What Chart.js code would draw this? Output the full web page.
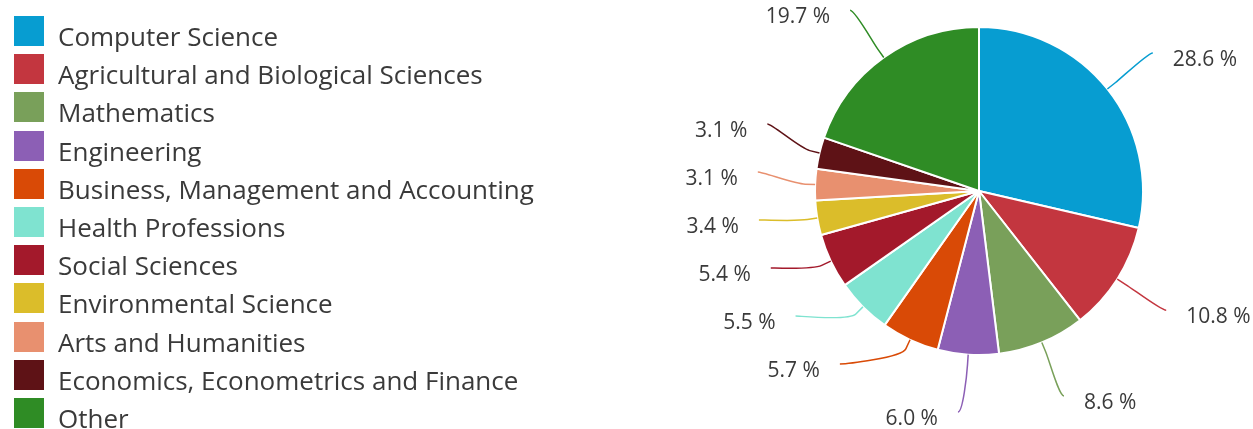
<!DOCTYPE html>
<html>
<head>
<meta charset="utf-8">
<script src="https://cdn.jsdelivr.net/npm/chart.js@4.4.0/dist/chart.umd.min.js"></script>
<style>
  html, body { margin: 0; padding: 0; background: #fff; }
  #wrap { position: relative; width: 1253px; height: 429px; overflow: hidden; }
  #pie { position: absolute; left: 0; top: 0; }
  #legend { position: absolute; left: 14px; top: 16px; font-family: "Open Sans", sans-serif; font-size: 26px; color: #3a3a3a; }
  .item { position: absolute; left: 0; white-space: nowrap; }
  .box { position: absolute; left: 0; top: 0; width: 30px; height: 30px; }
  .txt { position: absolute; left: 44px; top: 4px; line-height: 32px; }
</style>
</head>
<body>
<div id="wrap">
  <canvas id="pie" width="1253" height="429"></canvas>
  <div id="legend"></div>
</div>
<script>
const subjects = [
  "Computer Science",
  "Agricultural and Biological Sciences",
  "Mathematics",
  "Engineering",
  "Business, Management and Accounting",
  "Health Professions",
  "Social Sciences",
  "Environmental Science",
  "Arts and Humanities",
  "Economics, Econometrics and Finance",
  "Other"
];
const shares = [28.6, 10.8, 8.6, 6.0, 5.7, 5.5, 5.4, 3.4, 3.1, 3.1, 19.7];
const colors = [
  "#079dd1", "#c3363f", "#79a05a", "#8c5fb5", "#d94a06", "#7fe3d0",
  "#a3192b", "#dbbd2a", "#e8906f", "#5e1216", "#2f8c25"
];

// legend on the left, built from the same arrays
const legend = document.getElementById("legend");
subjects.forEach((name, i) => {
  const row = document.createElement("div");
  row.className = "item";
  row.style.top = (i * 38.2) + "px";
  row.innerHTML = '<span class="box" style="background:' + colors[i] + '"></span><span class="txt">' + name + '</span>';
  legend.appendChild(row);
});

// labels outside the pie with curved connectors
const pieLabels = {
  id: "pieLabels",
  afterDatasetsDraw(chart) {
    const ctx = chart.ctx;
    const arcs = chart.getDatasetMeta(0).data;
    const cx = arcs[0].x, cy = arcs[0].y, r = arcs[0].outerRadius;
    const R = r + 58;
    const gap = 48, yMax = chart.height - 17, yMin = 10;

    const items = arcs.map((arc, i) => {
      const mid = (arc.startAngle + arc.endAngle) / 2;
      return { i, mid, left: Math.cos(mid) < 0, y: cy + R * Math.sin(mid) };
    });

    let prev = Infinity;
    items.filter(d => d.left).sort((a, b) => b.y - a.y).forEach(d => {
      d.y = Math.min(d.y, yMax, prev - gap);
      prev = d.y;
    });
    prev = -Infinity;
    items.filter(d => !d.left).sort((a, b) => a.y - b.y).forEach(d => {
      d.y = Math.min(Math.max(d.y, yMin, prev + gap), yMax);
      prev = d.y;
    });

    ctx.save();
    ctx.font = '21px "Open Sans", sans-serif';
    ctx.textBaseline = "middle";
    items.forEach(d => {
      const dx = Math.sqrt(Math.max(R * R - (d.y - cy) * (d.y - cy), 0));
      const lx = cx + (d.left ? -dx : dx);
      const tx = cx + r * Math.cos(d.mid), ty = cy + r * Math.sin(d.mid);
      const bx = cx + (r + 10) * Math.cos(d.mid), by = cy + (r + 10) * Math.sin(d.mid);

      ctx.beginPath();
      ctx.moveTo(lx, d.y);
      ctx.bezierCurveTo(lx + (d.left ? 5 : -5), d.y, 2 * bx - tx, 2 * by - ty, bx, by);
      ctx.lineTo(tx, ty);
      ctx.strokeStyle = colors[d.i];
      ctx.lineWidth = 1.5;
      ctx.stroke();

      ctx.fillStyle = "#3a3a3a";
      ctx.textAlign = d.left ? "right" : "left";
      ctx.fillText(shares[d.i].toFixed(1) + " %", lx + (d.left ? -20 : 20), d.y + 7);
    });
    ctx.restore();
  }
};

new Chart(document.getElementById("pie").getContext("2d"), {
  type: "pie",
  data: {
    labels: subjects,
    datasets: [{
      data: shares,
      backgroundColor: colors,
      borderColor: "#ffffff",
      borderWidth: 2
    }]
  },
  options: {
    responsive: false,
    animation: false,
    radius: 164,
    layout: { padding: { left: 790, right: 85, top: 20, bottom: 67 } },
    plugins: {
      legend: { display: false },
      tooltip: { enabled: false }
    }
  },
  plugins: [pieLabels]
});
</script>
</body>
</html>
